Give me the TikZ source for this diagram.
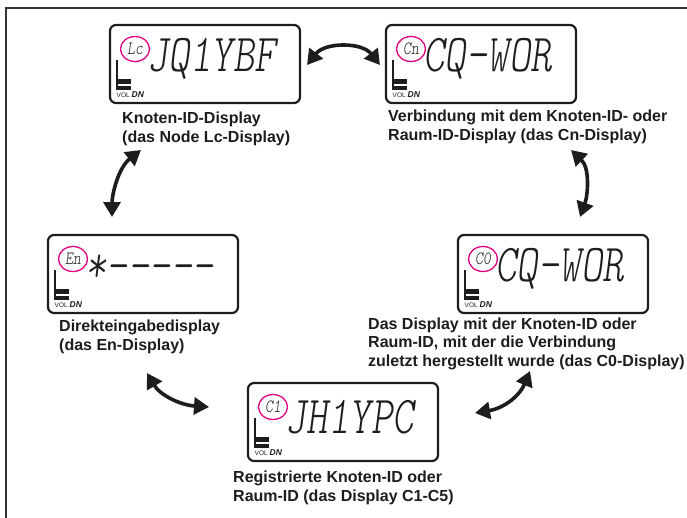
\documentclass[tikz,border=0pt]{standalone}
\usepackage{fontspec}
\usepackage{graphicx}
\setmainfont{Liberation Sans}
\usetikzlibrary{arrows.meta,shapes.geometric}
\definecolor{pinkc}{RGB}{228,0,124}
\definecolor{inkc}{RGB}{30,28,29}
\newcommand\lcdfont{\fontfamily{lmtt}\fontseries{l}\fontshape{sl}\selectfont}
\tikzset{
  lcdbox/.style={draw=inkc, line width=2.2pt, rounded corners=6pt, minimum width=190pt,
    minimum height=78pt, anchor=north west, inner sep=0pt, outer sep=0pt},
  lcdmain/.style={anchor=west, inner sep=0pt, text=inkc,
    font=\lcdfont\fontsize{41}{41}\selectfont},
  lcdcirc/.style={ellipse, draw=pinkc, line width=1.3pt, minimum width=29pt,
    minimum height=25pt, inner sep=0pt, text=inkc,
    font=\lcdfont\fontsize{15}{15}\selectfont},
  voltext/.style={anchor=base west, inner sep=0pt, text=inkc, font=\fontsize{6.5}{6.5}\selectfont},
  caption/.style={anchor=base west, inner sep=0pt, align=left, text=inkc,
    font=\bfseries\fontsize{16}{18.5}\selectfont},
  bigarrow/.style={line width=3.6pt, draw=inkc,
    {Triangle[length=15pt,width=17pt]}-{Triangle[length=15pt,width=17pt]}},
}
\newcommand\lcdpanel[5]{%
  \begin{scope}[shift={(#2,#3)}]
    \node[lcdbox] (#1) at (0,0) {};
    \node[lcdmain] (#1t) at (37,34) {\scalebox{1}[1.3]{#4}};
    \node[lcdcirc] (#1c) at (25,24) {\scalebox{1}[1.25]{#5}};
    \draw[inkc, line width=1.8pt] (7,35) -- (7,65);
    \fill[inkc] (7,54) rectangle (21,59);
    \fill[inkc] (7,60.5) rectangle (21,65);
    \node[voltext] (#1v) at (6.5,72) {VOL\hspace{2pt}{\fontsize{8.5}{8.5}\selectfont\bfseries\itshape DN}};
  \end{scope}%
}
\begin{document}
\begin{tikzpicture}[x=1pt,y=-1pt]
  \useasboundingbox (0,0) rectangle (687,517);
  % frame
  \draw[inkc!90, line width=2pt] (6,518) -- (6,8) -- (688,8);
  % displays
  \lcdpanel{lc}{110}{25}{JQ1YBF}{Lc}
  \lcdpanel{cn}{386}{25}{CQ-WOR}{Cn}
  \lcdpanel{en}{48}{235}{*-----}{En}
  \lcdpanel{cz}{458}{235}{CQ-WOR}{C0}
  \lcdpanel{co}{248}{383}{JH1YPC}{C1}
  % captions (base = baseline of last line)
  \node[caption] (lcl) at (122,142) {Knoten-ID-Display\\(das Node Lc-Display)};
  \node[caption] (cnl) at (388,140) {Verbindung mit dem Knoten-ID- oder\\Raum-ID-Display (das Cn-Display)};
  \node[caption] (enl) at (59,350) {Direkteingabedisplay\\(das En-Display)};
  \node[caption] (czl) at (368,366) {Das Display mit der Knoten-ID oder\\Raum-ID, mit der die Verbindung\\zuletzt hergestellt wurde (das C0-Display)};
  \node[caption] (col) at (233,501) {Registrierte Knoten-ID oder\\Raum-ID (das Display C1-C5)};
  % arrow ends
  \coordinate (a1s) at (307,65);  \coordinate (a1e) at (380,65);
  \coordinate (a2s) at (141,150); \coordinate (a2e) at (112,217);
  \coordinate (a3s) at (571,150); \coordinate (a3e) at (580,217);
  \coordinate (a4s) at (147,373); \coordinate (a4e) at (209,407);
  \coordinate (a5s) at (530,371); \coordinate (a5e) at (475,413);
  \draw[bigarrow] (a1s) .. controls (325,42) and (362,42) .. (a1e);
  \draw[bigarrow] (a2s) .. controls (118,168) and (112,195) .. (a2e);
  \draw[bigarrow] (a3s) .. controls (590,168) and (588,195) .. (a3e);
  \draw[bigarrow] (a4s) .. controls (160,395) and (180,405) .. (a4e);
  \draw[bigarrow] (a5s) .. controls (520,395) and (505,408) .. (a5e);
\end{tikzpicture}
\end{document}
